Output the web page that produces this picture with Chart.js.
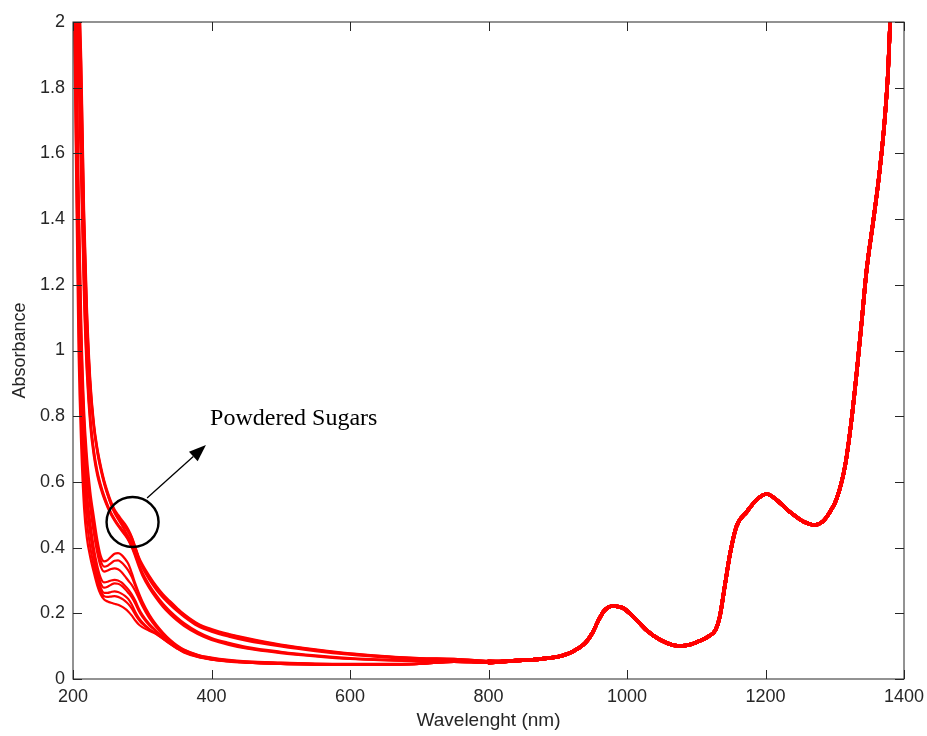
<!DOCTYPE html>
<html>
<head>
<meta charset="utf-8">
<title>Absorbance spectra</title>
<script src="https://cdn.jsdelivr.net/npm/chart.js@4.4.1/dist/chart.umd.min.js"></script>
<style>
  html, body { margin: 0; padding: 0; background: #fff; }
  #wrap { width: 927px; height: 736px; }
</style>
</head>
<body>
<div id="wrap"><canvas id="spectra" width="927" height="736"></canvas></div>
<script>
// UV part of the spectra (200-800 nm), one array per sample
const wavelengths = [200, 204, 208, 212, 216, 220, 225, 230, 235, 240, 245, 250, 255, 260, 265, 270, 275, 280, 285, 290, 295, 300,
  310, 320, 330, 340, 350, 360, 380, 400, 425, 450, 500, 550, 600, 650, 700, 750, 800];

// powdered sugars (upper band)
const sampleA1 = [3.2, 2.6, 2.15, 1.85, 1.4, 1.12, 0.9, 0.775, 0.70, 0.645, 0.60, 0.565, 0.535, 0.512, 0.495, 0.479, 0.463, 0.446, 0.424, 0.397, 0.368, 0.345,
  0.31, 0.279, 0.253, 0.232, 0.212, 0.194, 0.165, 0.148, 0.133, 0.121, 0.102, 0.088, 0.076, 0.068, 0.062, 0.06, 0.054];
const sampleA2 = [3.1, 2.5, 2.05, 1.75, 1.35, 1.08, 0.88, 0.765, 0.69, 0.637, 0.594, 0.56, 0.532, 0.508, 0.49, 0.476, 0.463, 0.45, 0.43, 0.40, 0.368, 0.34,
  0.303, 0.272, 0.247, 0.226, 0.207, 0.19, 0.161, 0.144, 0.129, 0.117, 0.099, 0.085, 0.074, 0.066, 0.06, 0.059, 0.053];
const sampleA3 = [3.2, 2.6, 2.12, 1.8, 1.38, 1.1, 0.89, 0.77, 0.695, 0.642, 0.598, 0.562, 0.53, 0.505, 0.487, 0.47, 0.452, 0.433, 0.413, 0.39, 0.364, 0.344,
  0.311, 0.281, 0.255, 0.234, 0.214, 0.196, 0.167, 0.15, 0.135, 0.123, 0.103, 0.089, 0.077, 0.069, 0.063, 0.061, 0.055];
const sampleA4 = [3.25, 2.65, 2.18, 1.88, 1.43, 1.14, 0.91, 0.782, 0.705, 0.65, 0.605, 0.57, 0.54, 0.516, 0.5, 0.486, 0.472, 0.455, 0.432, 0.402, 0.372, 0.35,
  0.315, 0.284, 0.258, 0.237, 0.217, 0.198, 0.169, 0.152, 0.137, 0.125, 0.105, 0.09, 0.078, 0.07, 0.064, 0.061, 0.055];

// middle band
const sampleB1 = [3.0, 2.4, 1.95, 1.6, 1.22, 0.98, 0.80, 0.70, 0.635, 0.592, 0.558, 0.53, 0.506, 0.487, 0.47, 0.455, 0.44, 0.424, 0.403, 0.377, 0.35, 0.325,
  0.287, 0.256, 0.229, 0.207, 0.188, 0.171, 0.144, 0.125, 0.110, 0.098, 0.083, 0.072, 0.064, 0.059, 0.056, 0.057, 0.052];
const sampleB2 = [2.95, 2.35, 1.9, 1.55, 1.18, 0.95, 0.785, 0.69, 0.628, 0.586, 0.553, 0.526, 0.503, 0.485, 0.47, 0.457, 0.444, 0.43, 0.41, 0.382, 0.35, 0.322,
  0.282, 0.25, 0.223, 0.201, 0.182, 0.166, 0.14, 0.122, 0.107, 0.095, 0.081, 0.070, 0.062, 0.058, 0.055, 0.056, 0.052];
const sampleB3 = [2.9, 2.3, 1.85, 1.5, 1.15, 0.93, 0.77, 0.68, 0.62, 0.58, 0.548, 0.522, 0.5, 0.482, 0.466, 0.452, 0.438, 0.422, 0.4, 0.372, 0.342, 0.316,
  0.277, 0.246, 0.219, 0.197, 0.178, 0.162, 0.137, 0.119, 0.104, 0.093, 0.079, 0.069, 0.061, 0.057, 0.055, 0.056, 0.052];

// lower band with the 260-280 nm bumps
const sampleC1 = [2.8, 2.1, 1.5, 1.08, 0.82, 0.68, 0.57, 0.495, 0.425, 0.375, 0.358, 0.362, 0.372, 0.381, 0.383, 0.378, 0.366, 0.35, 0.322, 0.29, 0.262, 0.237,
  0.197, 0.166, 0.141, 0.12, 0.103, 0.09, 0.074, 0.065, 0.058, 0.054, 0.05, 0.047, 0.046, 0.046, 0.047, 0.054, 0.051];
const sampleC2 = [2.75, 2.05, 1.45, 1.04, 0.79, 0.65, 0.545, 0.47, 0.405, 0.36, 0.342, 0.345, 0.353, 0.36, 0.361, 0.355, 0.344, 0.33, 0.31, 0.283, 0.257, 0.232,
  0.193, 0.163, 0.139, 0.118, 0.101, 0.089, 0.073, 0.064, 0.057, 0.053, 0.049, 0.046, 0.045, 0.045, 0.047, 0.053, 0.05];
const sampleC3 = [2.7, 2.0, 1.4, 1.0, 0.76, 0.62, 0.52, 0.445, 0.385, 0.343, 0.327, 0.33, 0.335, 0.337, 0.334, 0.326, 0.313, 0.299, 0.286, 0.268, 0.246, 0.223,
  0.186, 0.158, 0.135, 0.115, 0.099, 0.087, 0.072, 0.063, 0.056, 0.052, 0.048, 0.045, 0.044, 0.045, 0.047, 0.053, 0.05];
const sampleC4 = [2.6, 1.9, 1.3, 0.92, 0.7, 0.57, 0.475, 0.4, 0.345, 0.308, 0.294, 0.296, 0.3, 0.302, 0.3, 0.294, 0.284, 0.272, 0.257, 0.238, 0.215, 0.196,
  0.168, 0.147, 0.128, 0.111, 0.096, 0.084, 0.07, 0.061, 0.055, 0.051, 0.047, 0.045, 0.044, 0.044, 0.046, 0.052, 0.05];
const sampleC5 = [2.5, 1.8, 1.2, 0.85, 0.65, 0.53, 0.44, 0.37, 0.315, 0.278, 0.262, 0.262, 0.265, 0.267, 0.265, 0.26, 0.253, 0.243, 0.226, 0.204, 0.186, 0.173,
  0.153, 0.138, 0.123, 0.109, 0.095, 0.083, 0.069, 0.06, 0.054, 0.05, 0.046, 0.044, 0.043, 0.044, 0.046, 0.052, 0.05];
const sampleC6 = [2.3, 1.62, 1.0, 0.70, 0.52, 0.43, 0.37, 0.325, 0.285, 0.257, 0.242, 0.236, 0.232, 0.229, 0.226, 0.221, 0.214, 0.205, 0.193, 0.178, 0.166, 0.158,
  0.147, 0.137, 0.122, 0.107, 0.093, 0.081, 0.067, 0.059, 0.053, 0.05, 0.046, 0.044, 0.043, 0.044, 0.046, 0.052, 0.05];
const sampleC7 = [2.55, 1.85, 1.25, 0.88, 0.67, 0.55, 0.455, 0.385, 0.33, 0.292, 0.278, 0.281, 0.287, 0.291, 0.29, 0.284, 0.274, 0.262, 0.248, 0.229, 0.207, 0.19,
  0.164, 0.145, 0.127, 0.111, 0.097, 0.085, 0.07, 0.061, 0.055, 0.051, 0.047, 0.045, 0.044, 0.044, 0.046, 0.052, 0.05];
const sampleC8 = [2.4, 1.7, 1.1, 0.78, 0.59, 0.48, 0.4, 0.345, 0.3, 0.268, 0.252, 0.25, 0.251, 0.252, 0.25, 0.245, 0.238, 0.228, 0.214, 0.196, 0.18, 0.168,
  0.151, 0.139, 0.124, 0.108, 0.094, 0.082, 0.068, 0.06, 0.054, 0.05, 0.046, 0.044, 0.043, 0.044, 0.046, 0.052, 0.05];

// NIR part (800-1400 nm), identical for all samples
const tailWavelengths = [820, 840, 860, 880, 900, 920, 940, 950, 958, 966, 973, 980, 988, 995, 1009, 1028, 1048, 1067, 1080, 1090,
  1105, 1118, 1128, 1134, 1141, 1149, 1158, 1173, 1187, 1202, 1216, 1235, 1255, 1271, 1282, 1292, 1303, 1315, 1324, 1332,
  1339, 1346, 1356, 1365, 1372, 1377, 1380, 1385];
const tailAbsorbance = [0.053, 0.056, 0.058, 0.062, 0.068, 0.082, 0.11, 0.14, 0.175, 0.205, 0.218, 0.222, 0.22, 0.215, 0.19, 0.149, 0.119, 0.103, 0.101, 0.104,
  0.116, 0.13, 0.15, 0.19, 0.28, 0.383, 0.464, 0.509, 0.545, 0.563, 0.545, 0.509, 0.479, 0.469, 0.478, 0.505, 0.55, 0.65, 0.785, 0.94,
  1.09, 1.245, 1.40, 1.55, 1.70, 1.85, 2.0, 2.3];

const samples = [sampleA1, sampleA2, sampleA3, sampleA4, sampleB1, sampleB2, sampleB3,
  sampleC1, sampleC2, sampleC3, sampleC4, sampleC5, sampleC6, sampleC7, sampleC8];

const xTicks = [200, 400, 600, 800, 1000, 1200, 1400];
const yTicks = [0, 0.2, 0.4, 0.6, 0.8, 1, 1.2, 1.4, 1.6, 1.8, 2];

// annotation, in data units
const note = { text: 'Powdered Sugars', circle: [286, 0.478], arrowFrom: [307, 0.551], arrowTo: [392, 0.712], label: [398, 0.773] };

const TICK_FONT = { family: '"Liberation Sans", Arial, Helvetica, sans-serif', size: 18 };
const INK = '#262626';

function toPoints(values) {
  const pts = wavelengths.map((w, i) => ({ x: w, y: values[i] }));
  tailWavelengths.forEach((w, i) => pts.push({ x: w, y: tailAbsorbance[i] }));
  return pts;
}

const datasets = samples.map((s, i) => ({
  label: 'sample ' + (i + 1),
  data: toPoints(s),
  borderColor: '#ff0000',
  borderWidth: 2.2,
  pointRadius: 0,
  fill: false,
  cubicInterpolationMode: 'monotone',
  segment: { borderWidth: c => c.p0.parsed.x >= 800 ? 3.6 : undefined }
}));

const boxPlugin = {
  id: 'matlabBox',
  afterDatasetsDraw(chart) {
    const { ctx, chartArea: a, scales: { x, y } } = chart;
    ctx.save();
    ctx.strokeStyle = INK;
    ctx.lineWidth = 1;
    ctx.beginPath();
    xTicks.forEach(v => {
      const px = Math.round(x.getPixelForValue(v)) + 0.5;
      ctx.moveTo(px, a.bottom); ctx.lineTo(px, a.bottom - 9);
      ctx.moveTo(px, a.top); ctx.lineTo(px, a.top + 9);
    });
    yTicks.forEach(v => {
      const py = Math.round(y.getPixelForValue(v)) + 0.5;
      ctx.moveTo(a.left, py); ctx.lineTo(a.left + 9, py);
      ctx.moveTo(a.right, py); ctx.lineTo(a.right - 9, py);
    });
    ctx.stroke();
    ctx.strokeRect(a.left, a.top, a.right - a.left, a.bottom - a.top);
    ctx.restore();
  }
};

const notePlugin = {
  id: 'sugarNote',
  afterDraw(chart) {
    const { ctx, scales: { x, y } } = chart;
    const px = p => [x.getPixelForValue(p[0]), y.getPixelForValue(p[1])];
    const c = px(note.circle), f = px(note.arrowFrom), t = px(note.arrowTo), l = px(note.label);
    ctx.save();
    ctx.strokeStyle = '#000';
    ctx.fillStyle = '#000';
    ctx.lineWidth = 2.4;
    ctx.beginPath();
    ctx.ellipse(c[0], c[1], 26, 25, 0, 0, Math.PI * 2);
    ctx.stroke();

    const ang = Math.atan2(t[1] - f[1], t[0] - f[0]);
    const headLen = 17, headHalf = 6.5;
    const bx = t[0] - headLen * Math.cos(ang), by = t[1] - headLen * Math.sin(ang);
    ctx.lineWidth = 1.3;
    ctx.beginPath();
    ctx.moveTo(f[0], f[1]);
    ctx.lineTo(bx, by);
    ctx.stroke();
    ctx.beginPath();
    ctx.moveTo(t[0], t[1]);
    ctx.lineTo(bx + headHalf * Math.sin(ang), by - headHalf * Math.cos(ang));
    ctx.lineTo(bx - headHalf * Math.sin(ang), by + headHalf * Math.cos(ang));
    ctx.closePath();
    ctx.fill();

    ctx.font = '24px "Liberation Serif", "Times New Roman", serif';
    ctx.textAlign = 'left';
    ctx.textBaseline = 'alphabetic';
    ctx.fillText(note.text, l[0], l[1]);
    ctx.restore();
  }
};

new Chart(document.getElementById('spectra'), {
  type: 'line',
  data: { datasets },
  options: {
    responsive: false,
    animation: false,
    devicePixelRatio: 1,
    layout: { padding: { top: 22, right: 23, left: 0, bottom: 0 } },
    plugins: { legend: { display: false }, tooltip: { enabled: false } },
    elements: { line: { borderJoinStyle: 'round', borderCapStyle: 'round' } },
    scales: {
      x: {
        type: 'linear', min: 200, max: 1400,
        afterBuildTicks: s => { s.ticks = xTicks.map(v => ({ value: v })); },
        afterFit: s => { s.height = 57; s.paddingLeft = 0; s.paddingRight = 0; },
        grid: { display: false, drawTicks: false },
        border: { display: false },
        ticks: { color: INK, font: TICK_FONT, padding: 7, maxRotation: 0, callback: v => String(v) },
        title: { display: true, text: 'Wavelenght (nm)', color: INK, font: { family: TICK_FONT.family, size: 19 }, padding: { top: 0, bottom: 4 } }
      },
      y: {
        type: 'linear', min: 0, max: 2,
        afterBuildTicks: s => { s.ticks = yTicks.map(v => ({ value: v })); },
        afterFit: s => { s.width = 73; s.paddingTop = 0; s.paddingBottom = 0; },
        grid: { display: false, drawTicks: false },
        border: { display: false },
        ticks: { color: INK, font: TICK_FONT, padding: 8, callback: v => String(+v.toFixed(1)) },
        title: { display: true, text: 'Absorbance', color: INK, font: { family: TICK_FONT.family, size: 18 }, padding: { top: 9, bottom: 0 } }
      }
    }
  },
  plugins: [boxPlugin, notePlugin]
});
</script>
</body>
</html>
